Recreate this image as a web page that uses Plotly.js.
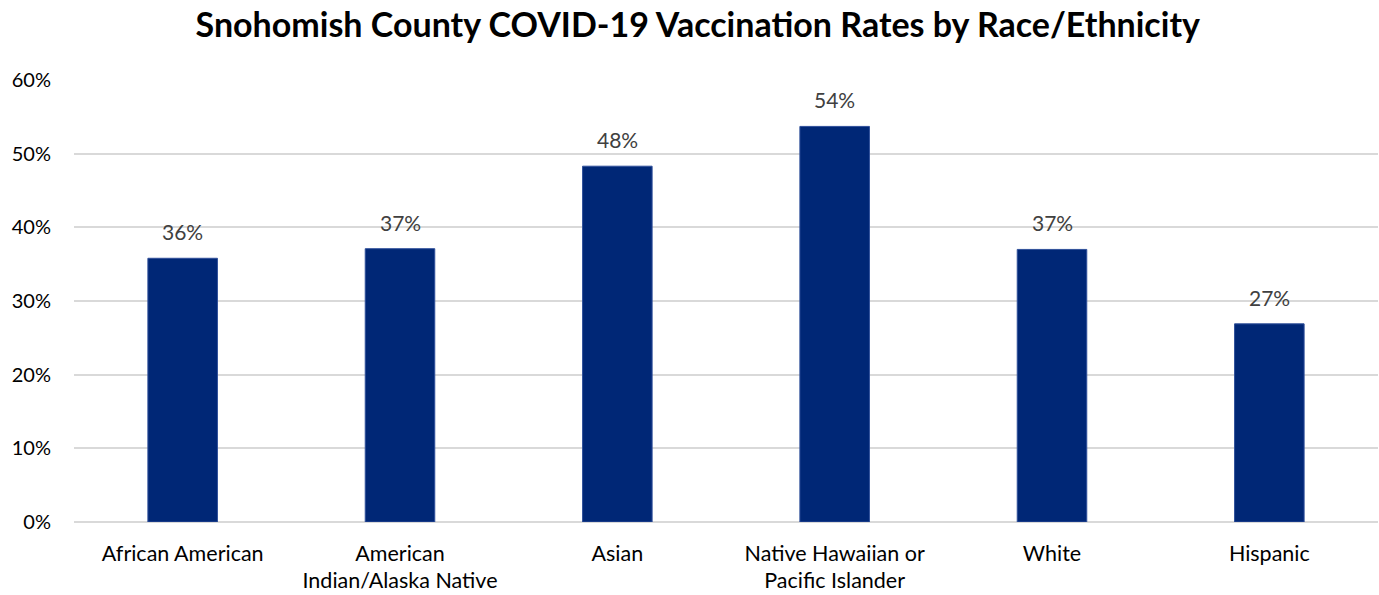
<!DOCTYPE html>
<html>
<head>
<meta charset="utf-8">
<script src="https://cdn.plot.ly/plotly-3.0.1.min.js"></script>
<style>html,body{margin:0;padding:0;background:#fff;}#chart{width:1379px;height:595px;}</style>
</head>
<body>
<div id="chart"></div>
<script>
var categories = ["African American", "American<br>Indian/Alaska Native", "Asian", "Native Hawaiian or<br>Pacific Islander", "White", "Hispanic"];
var rates = [35.8, 37.1, 48.3, 53.7, 37.0, 26.9];
var rateLabels = ["36%", "37%", "48%", "54%", "37%", "27%"];
var yTickVals = [0, 10, 20, 30, 40, 50, 60];
var yTickText = ["0%", "10%", "20%", "30%", "40%", "50%", "60%"];

var font = "Lato, 'Open Sans', sans-serif";

var trace = {
  type: "bar",
  x: categories,
  y: rates,
  marker: {color: "#002776", line: {color: "#2f4f9a", width: 1}},
  width: 0.32,
  hoverinfo: "x+y"
};

var annotations = categories.map(function (c, i) {
  return {
    x: c, y: rates[i], xref: "x", yref: "y",
    text: rateLabels[i], showarrow: false,
    yanchor: "bottom", yshift: 12,
    font: {family: font, size: 21, color: "#404040"}
  };
});

var layout = {
  width: 1379, height: 595,
  margin: {l: 74, r: 1, t: 80, b: 73},
  paper_bgcolor: "#fff", plot_bgcolor: "#fff",
  title: {
    text: "<b>Snohomish County COVID-19 Vaccination Rates by Race/Ethnicity</b>",
    x: 0.506, xanchor: "center", y: 0.958, yanchor: "middle",
    font: {family: font, size: 34, color: "#000"}
  },
  showlegend: false,
  bargap: 0.68,
  xaxis: {
    type: "category",
    tickfont: {family: font, size: 21.5, color: "#000"},
    showgrid: false, zeroline: false, showline: false,
    ticks: "", ticklabelstandoff: 16,
    range: [-0.5, 5.5]
  },
  yaxis: {
    range: [0, 60],
    tickvals: yTickVals, ticktext: yTickText,
    tickfont: {family: font, size: 20, color: "#000"},
    showgrid: true, gridcolor: "#d9d9d9", gridwidth: 2,
    zeroline: true, zerolinecolor: "#d9d9d9", zerolinewidth: 2,
    showline: false, ticks: "", ticklabelstandoff: 22
  },
  annotations: annotations
};

Plotly.newPlot("chart", [trace], layout, {displayModeBar: false, staticPlot: true});
</script>
</body>
</html>
